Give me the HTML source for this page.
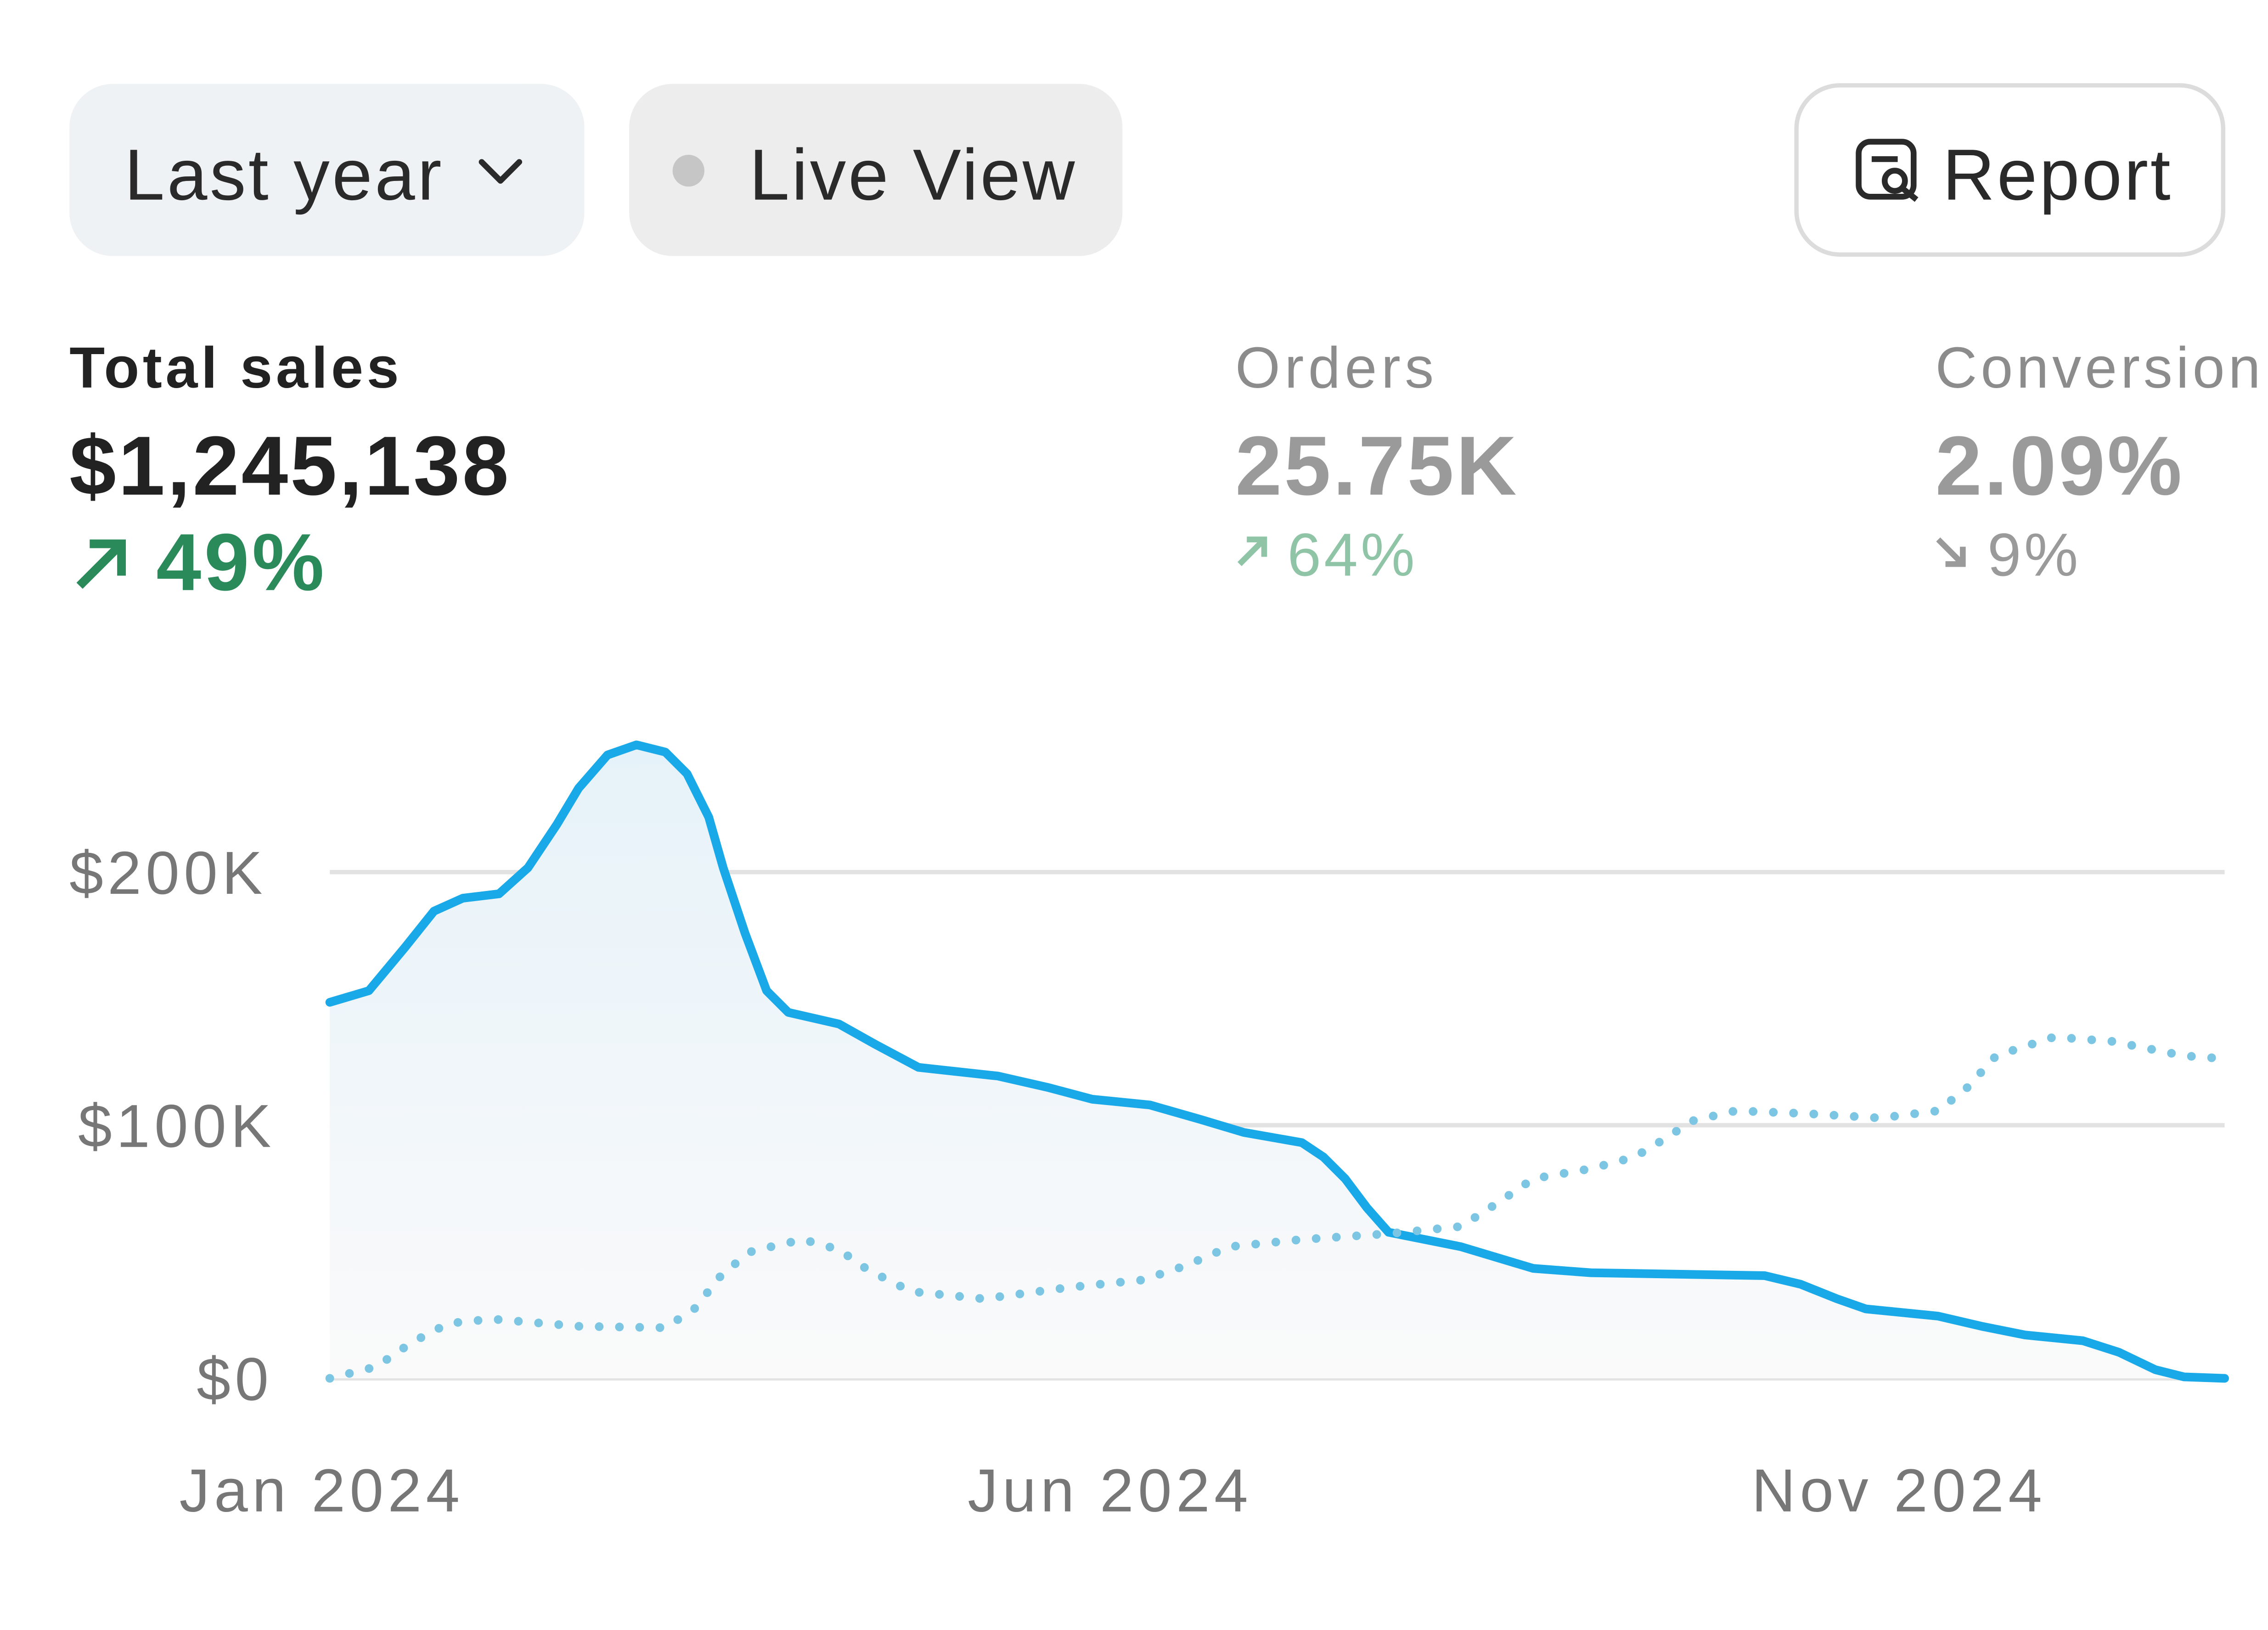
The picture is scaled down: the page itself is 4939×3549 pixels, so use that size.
<!DOCTYPE html>
<html><head><meta charset="utf-8"><style>
html,body{margin:0;padding:0;background:#fff;width:4939px;height:3549px;overflow:hidden}
svg{display:block}
text{font-family:"Liberation Sans",sans-serif}
</style></head><body>
<svg width="4939" height="3549" viewBox="0 0 1568 1127" preserveAspectRatio="none">
<defs>
<linearGradient id="g" x1="0" y1="0" x2="0" y2="1">
<stop offset="0" stop-color="#e6f2f9"/><stop offset="1" stop-color="#fafafa"/>
</linearGradient>
</defs>
<rect x="48" y="58" width="356" height="119" rx="30" fill="#eff2f4"/>
<text x="86" y="138" font-size="50" fill="#2a2a2a" letter-spacing="1.7">Last year</text>
<polyline points="333,112 346,125 359,112" fill="none" stroke="#2a2a2a" stroke-width="4" stroke-linecap="round" stroke-linejoin="round"/>
<rect x="435" y="58" width="341" height="119" rx="30" fill="#ededed"/>
<circle cx="476" cy="118" r="11" fill="#c6c6c6"/>
<text x="518" y="138" font-size="50" fill="#2a2a2a" letter-spacing="1.5">Live View</text>
<rect x="1242" y="59" width="295" height="117" rx="30" fill="#fff" stroke="#dcdcdc" stroke-width="3"/>
<rect x="1285" y="98" width="38" height="38" rx="8" fill="none" stroke="#2a2a2a" stroke-width="4"/>
<line x1="1294" y1="110" x2="1312" y2="110" stroke="#2a2a2a" stroke-width="4"/>
<circle cx="1310" cy="125" r="7" fill="#fff" stroke="#2a2a2a" stroke-width="4"/>
<line x1="1315" y1="130" x2="1325" y2="138" stroke="#2a2a2a" stroke-width="4"/>
<text x="1343" y="138" font-size="50" fill="#2a2a2a" letter-spacing="1.5">Report</text>

<text x="48" y="268" font-size="40" font-weight="bold" fill="#222" letter-spacing="2.4">Total sales</text>
<text x="48" y="342" font-size="58" font-weight="bold" fill="#222" letter-spacing="1.5">$1,245,138</text>
<polyline points="62,376 84,376 84,398" fill="none" stroke="#2a8a5a" stroke-width="6"/>
<line x1="55" y1="405" x2="84" y2="376" stroke="#2a8a5a" stroke-width="6"/>
<text x="108" y="408" font-size="56" font-weight="bold" fill="#2a8a5a" letter-spacing="2">49%</text>

<text x="854" y="268" font-size="40" fill="#8c8c8c" letter-spacing="3">Orders</text>
<text x="854" y="342" font-size="58" font-weight="bold" fill="#9a9a9a" letter-spacing="1.5">25.75K</text>
<polyline points="862,373 874,373 874,385" fill="none" stroke="#8fc4a6" stroke-width="4"/>
<line x1="857" y1="390" x2="874" y2="373" stroke="#8fc4a6" stroke-width="4"/>
<text x="890" y="398" font-size="42" fill="#8fc4a6" letter-spacing="2">64%</text>

<text x="1338" y="268" font-size="40" fill="#8c8c8c" letter-spacing="2.5">Conversion</text>
<text x="1338" y="342" font-size="58" font-weight="bold" fill="#9a9a9a" letter-spacing="1.5">2.09%</text>
<polyline points="1345,390 1357,390 1357,378" fill="none" stroke="#9a9a9a" stroke-width="4"/>
<line x1="1340" y1="373" x2="1357" y2="390" stroke="#9a9a9a" stroke-width="4"/>
<text x="1374" y="398" font-size="42" fill="#9a9a9a" letter-spacing="2">9%</text>

<line x1="228" y1="603" x2="1538" y2="603" stroke="#e2e2e2" stroke-width="3"/>
<line x1="228" y1="778" x2="1538" y2="778" stroke="#e2e2e2" stroke-width="3"/>
<line x1="228" y1="953" x2="1538" y2="953" stroke="#e2e2e2" stroke-width="3"/>
<g font-size="42" fill="#777" letter-spacing="3">
<text x="48" y="618">$200K</text><text x="54" y="793">$100K</text><text x="136" y="968">$0</text>
</g>
<g font-size="42" fill="#777" letter-spacing="3">
<text x="124" y="1045">Jan 2024</text><text x="669" y="1045">Jun 2024</text><text x="1211" y="1045">Nov 2024</text>
</g>
<polygon fill="url(#g)" points="228,693 255,685 280,655 300,630 320,621 345,618 365,600 385,570 400,545 420,522 440,515 460,520 475,535 490,565 500,600 515,645 530,685 545,700 580,708 605,722 635,738 690,744 725,752 755,760 795,764 830,774 860,783 900,790 915,800 930,815 945,835 960,852 1010,862 1060,877 1100,880 1220,882 1245,888 1270,898 1290,905 1340,910 1370,917 1400,923 1440,927 1465,935 1490,947 1510,952 1538,953 1538,953 228,953"/>
<polyline fill="none" stroke="#19a8e8" stroke-width="6" stroke-linejoin="round" stroke-linecap="round" points="228,693 255,685 280,655 300,630 320,621 345,618 365,600 385,570 400,545 420,522 440,515 460,520 475,535 490,565 500,600 515,645 530,685 545,700 580,708 605,722 635,738 690,744 725,752 755,760 795,764 830,774 860,783 900,790 915,800 930,815 945,835 960,852 1010,862 1060,877 1100,880 1220,882 1245,888 1270,898 1290,905 1340,910 1370,917 1400,923 1440,927 1465,935 1490,947 1510,952 1538,953"/>
<polyline fill="none" stroke="#7cc6e3" stroke-width="6" stroke-linecap="round" stroke-linejoin="round" stroke-dasharray="0 14" points="228,953 260,945 285,928 310,915 340,912 400,917 460,918 480,905 500,880 520,865 555,857 580,864 600,878 630,893 680,898 740,890 790,885 820,875 850,862 900,857 960,853 1010,848 1035,832 1060,815 1100,808 1130,800 1150,788 1170,775 1200,768 1250,770 1300,773 1340,768 1360,752 1380,730 1420,717 1460,720 1510,730 1538,732"/>
</svg>
</body></html>
